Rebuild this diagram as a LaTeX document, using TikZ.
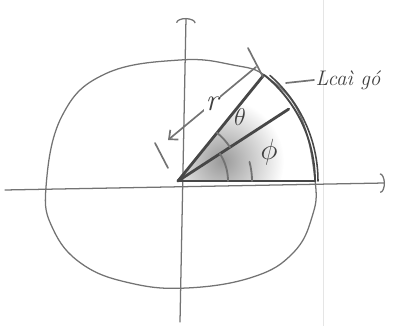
\documentclass[tikz,border=0pt]{standalone}
\usepackage{tikz}
\usetikzlibrary{positioning, arrows.meta}

\begin{document}
\begin{tikzpicture}[
    x=0.025cm, y=0.025cm,
    pencil/.style={
        draw=black!55,
        line width=0.9pt,
        line cap=round,
        line join=round
    },
    heavy/.style={
        draw=black!72,
        line width=2pt,
        line cap=round
    },
    axisarrow/.style={
        -{Arc Barb[width=14pt, length=3.5pt]}
    },
    handtext/.style={
        font=\fontsize{22}{26}\selectfont\itshape,
        text=black!75,
        inner sep=1pt
    }
]
\useasboundingbox (0,0) rectangle (395,326);
\clip (0,0) rectangle (395,326);

% Paper edge
\draw [black!10, line width=0.6pt] (323,0) -- (323,326);

% Points
\coordinate (O)  at (178,145);
\coordinate (xl) at (5,136);
\coordinate (xr) at (385,143);
\coordinate (yb) at (180,4);
\coordinate (yt) at (186,308);
\coordinate (B)  at (315,145);

% Shading inside the sector
\begin{scope}
    \clip (O) -- ++(0:110) arc (0:51:110) -- cycle;
    \shade [inner color=black!40, outer color=white] (222,165) circle (62);
\end{scope}

% Axes
\draw [pencil, axisarrow] (xl) -- (xr);
\draw [pencil, axisarrow] (yb) -- (yt);

% Closed curve
\draw [pencil] plot [smooth cycle, tension=0.7] coordinates {
    (180,266) (233,261) (267,249) (300,211) (315,146) (312,109)
    (293,73) (253,49) (187,38) (130,43) (82,62) (53,97) (46,139)
    (62,210) (105,252)};

% Sector
\draw [heavy] (O) -- (B);
\draw [heavy] (O) -- ++(51:136) coordinate (A);
\draw [heavy] (O) -- ++(33:132) coordinate (M);
\draw [heavy, line width=1.3pt] (B) arc (0:51:136);
\draw [heavy, line width=1.1pt] ([shift={(0:140)}]O) arc (0:49:140);

% Angle marks
\draw [pencil, line width=1.3pt] ([shift={(0:50)}]O) arc (0:33:50);
\draw [pencil, line width=1.3pt] ([shift={(0:74)}]O) arc (0:15:74);
\draw [pencil, line width=1.3pt] ([shift={(33:62)}]O) arc (33:51:62);

% Dimension r
\coordinate (r1) at (168,186);
\coordinate (r2) at (256,259);
\draw [pencil, line width=1.2pt, {Straight Barb[length=5pt, width=9pt]}-] (r1) -- (r2)
    node [midway, fill=white, handtext] (rlab) {r};
\coordinate (t1a) at (155,183);
\coordinate (t1b) at (168,158);
\coordinate (t2a) at (248,278);
\coordinate (t2b) at (263,249);
\draw [pencil, line width=1.2pt] (t1a) -- (t1b);
\draw [pencil, line width=1.2pt] (t2a) -- (t2b);

% Angle labels
\node (theta) at (240,209) [handtext, font=\fontsize{16}{18}\selectfont\itshape] {$\theta$};
\node (phi)   at (269,174) [handtext, font=\fontsize{22}{26}\selectfont] {$\phi$};

% Label of the arc
\node (lab) at (314,246) [handtext, anchor=west, font=\fontsize{15}{18}\selectfont\itshape] {Lcaì gó};
\coordinate (lead) at (286,243);
\draw [pencil, line width=1.2pt] (lead) -- (lab.west);

\end{tikzpicture}
\end{document}
